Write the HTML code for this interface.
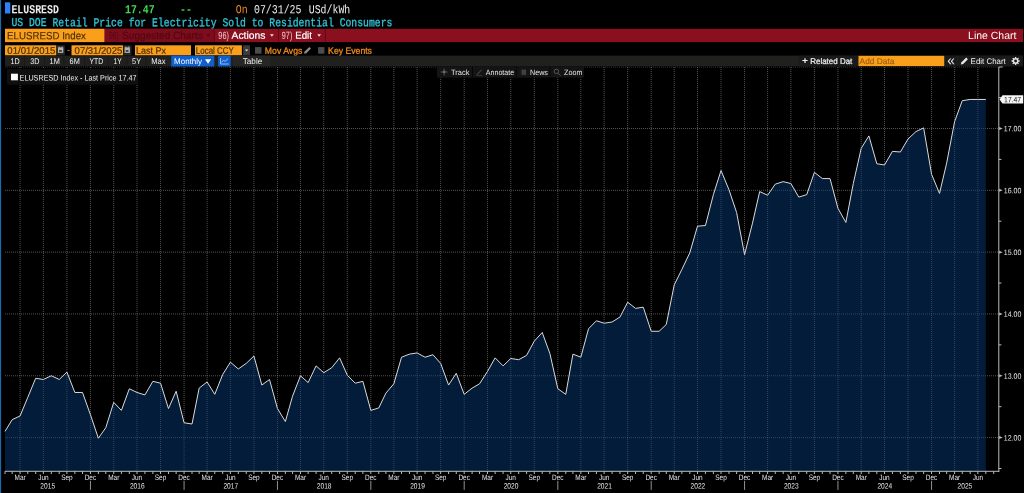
<!DOCTYPE html>
<html lang="en">
<head>
<meta charset="utf-8">
<title>ELUSRESD Index - Line Chart</title>
<style>
html,body{margin:0;padding:0;background:#000;}
body{width:1024px;height:493px;position:relative;overflow:hidden;font-family:"Liberation Sans",sans-serif;}

</style>
</head>
<body>
<svg width="1024" height="493" viewBox="0 0 1024 493" style="position:absolute;left:0;top:0;display:block;filter:blur(0.3px)">
<rect x="0.00" y="0.00" width="1024.00" height="493.00" fill="#000" />
<rect x="-1.00" y="0.00" width="2.10" height="493.00" fill="#1e6ab0" />
<rect x="5.00" y="2.30" width="5.30" height="11.20" fill="#2f80f5" />
<text transform="matrix(0.8048,0.0005,0,1,11.40,13.20)" font-family="Liberation Mono, monospace" font-size="12.3" fill="#ececec" font-weight="bold" >ELUSRESD</text>
<text transform="matrix(0.8047,0.0005,0,1,125.00,13.20)" font-family="Liberation Mono, monospace" font-size="12.3" fill="#3ddc4a" font-weight="bold" >17.47</text>
<text transform="matrix(0.8046,0.0005,0,1,180.00,13.20)" font-family="Liberation Mono, monospace" font-size="12.3" fill="#3cc84c" font-weight="bold" >--</text>
<text transform="matrix(0.8046,0.0005,0,1,235.70,13.20)" font-family="Liberation Mono, monospace" font-size="12.3" fill="#ee8a1e" >On</text>
<text transform="matrix(0.8048,0.0005,0,1,254.00,13.20)" font-family="Liberation Mono, monospace" font-size="12.3" fill="#eeeeee" >07/31/25</text>
<text transform="matrix(0.8049,0.0005,0,1,308.70,13.20)" font-family="Liberation Mono, monospace" font-size="12.3" fill="#eeeeee" >USd/kWh</text>
<text transform="matrix(0.8144,0.0005,0,1,11.40,26.10)" font-family="Liberation Mono, monospace" font-size="12.0" fill="#30c8dc" stroke="#30c8dc" stroke-width="0.3">US DOE Retail Price for Electricity Sold to Residential Consumers</text>
<rect x="5.00" y="28.80" width="1018.00" height="13.30" fill="#8a0f1f" />
<rect x="5.00" y="28.80" width="99.40" height="13.30" fill="#f99f1c" />
<rect x="104.90" y="28.80" width="109.10" height="13.30" fill="#7d0d1c" />
<text transform="matrix(0.9259,0.0005,0,1,7.10,39.20)" font-family="Liberation Sans, sans-serif" font-size="10.5" fill="#4a2e06" stroke="#4a2e06" stroke-width="0.15">ELUSRESD Index</text>
<text transform="matrix(0.6519,0.0005,0,1,109.00,38.90)" font-family="Liberation Sans, sans-serif" font-size="10.5" fill="#520813" >96)</text>
<text transform="matrix(0.9612,0.0005,0,1,122.10,38.90)" font-family="Liberation Sans, sans-serif" font-size="10.5" fill="#520813" stroke="#520813" stroke-width="0.2">Suggested Charts</text>
<polygon points="206.30,34.30 210.00,34.30 208.15,36.80" fill="#520813"/>
<rect x="213.80" y="28.80" width="1.00" height="13.30" fill="#5e0a16" />
<rect x="278.00" y="28.80" width="1.00" height="13.30" fill="#5e0a16" />
<rect x="324.90" y="28.80" width="1.00" height="13.30" fill="#5e0a16" />
<text transform="matrix(0.6947,0.0005,0,1,218.35,38.90)" font-family="Liberation Sans, sans-serif" font-size="10.5" fill="#eccdd0" >96)</text>
<text transform="matrix(1.0143,0.0005,0,1,231.50,38.70)" font-family="Liberation Sans, sans-serif" font-size="10.2" fill="#ffffff" stroke="#ffffff" stroke-width="0.2">Actions</text>
<polygon points="270.00,34.30 273.80,34.30 271.90,36.80" fill="#f0e0e0"/>
<text transform="matrix(0.6881,0.0005,0,1,281.85,38.90)" font-family="Liberation Sans, sans-serif" font-size="10.5" fill="#eccdd0" >97)</text>
<text transform="matrix(0.9566,0.0005,0,1,295.20,38.70)" font-family="Liberation Sans, sans-serif" font-size="10.2" fill="#ffffff" stroke="#ffffff" stroke-width="0.2">Edit</text>
<polygon points="317.30,34.30 321.00,34.30 319.15,36.80" fill="#f0e0e0"/>
<text transform="matrix(0.9968,0.0005,0,1,968.10,38.90)" font-family="Liberation Sans, sans-serif" font-size="10.5" fill="#ffffff" >Line Chart</text>
<rect x="5.00" y="45.30" width="51.30" height="10.10" fill="#f99f1c" />
<text transform="matrix(1.0106,0.0005,0,1,7.35,53.65)" font-family="Liberation Sans, sans-serif" font-size="9.5" fill="#4a2e06" stroke="#4a2e06" stroke-width="0.2">01/01/2015</text>
<rect x="57.00" y="45.30" width="7.90" height="10.10" fill="#262626" />
<rect x="57.95" y="47.30" width="5.35" height="5.60" fill="#b2b2b2" />
<rect x="58.60" y="46.50" width="1.00" height="1.00" fill="#b2b2b2" />
<rect x="61.60" y="46.50" width="1.00" height="1.00" fill="#b2b2b2" />
<rect x="59.10" y="50.10" width="2.75" height="1.65" fill="#303030" />
<text transform="matrix(0.9773,0.0005,0,1,67.10,53.20)" font-family="Liberation Sans, sans-serif" font-size="9.5" fill="#ee8a1e" >-</text>
<rect x="71.50" y="45.30" width="51.60" height="10.10" fill="#f99f1c" />
<text transform="matrix(1.0032,0.0005,0,1,74.60,53.65)" font-family="Liberation Sans, sans-serif" font-size="9.5" fill="#4a2e06" stroke="#4a2e06" stroke-width="0.2">07/31/2025</text>
<rect x="123.60" y="45.30" width="7.90" height="10.10" fill="#262626" />
<rect x="124.55" y="47.30" width="5.35" height="5.60" fill="#b2b2b2" />
<rect x="125.20" y="46.50" width="1.00" height="1.00" fill="#b2b2b2" />
<rect x="128.20" y="46.50" width="1.00" height="1.00" fill="#b2b2b2" />
<rect x="125.70" y="50.10" width="2.75" height="1.65" fill="#303030" />
<rect x="135.00" y="45.30" width="56.00" height="10.10" fill="#f99f1c" />
<text transform="matrix(0.9436,0.0005,0,1,136.10,53.65)" font-family="Liberation Sans, sans-serif" font-size="9.5" fill="#4a2e06" stroke="#4a2e06" stroke-width="0.2">Last Px</text>
<rect x="195.00" y="45.30" width="46.90" height="10.10" fill="#f99f1c" />
<text transform="matrix(0.8377,0.0005,0,1,195.85,53.65)" font-family="Liberation Sans, sans-serif" font-size="9.5" fill="#4a2e06" stroke="#4a2e06" stroke-width="0.2">Local CCY</text>
<rect x="243.10" y="45.30" width="6.90" height="10.10" fill="#3a3a3a" />
<polygon points="245.00,49.60 248.20,49.60 246.60,51.60" fill="#e0e0e0"/>
<rect x="255.00" y="47.10" width="6.50" height="6.60" fill="#4c4c4c" />
<text transform="matrix(0.9440,0.0005,0,1,264.85,53.65)" font-family="Liberation Sans, sans-serif" font-size="9.2" fill="#ee8a1e" stroke="#ee8a1e" stroke-width="0.3">Mov Avgs</text>
<path d="M304 53.8 L304.6 51.6 L309.3 46.9 L311 48.6 L306.3 53.2 Z" fill="#8c8c8c"/>
<rect x="318.10" y="47.10" width="6.30" height="6.60" fill="#4c4c4c" />
<text transform="matrix(0.9423,0.0005,0,1,328.10,53.65)" font-family="Liberation Sans, sans-serif" font-size="9.2" fill="#ee8a1e" stroke="#ee8a1e" stroke-width="0.3">Key Events</text>
<rect x="5.00" y="55.60" width="1018.00" height="10.70" fill="#20201e" />
<rect x="24.00" y="55.60" width="0.80" height="10.70" fill="#181818" />
<rect x="44.00" y="55.60" width="0.80" height="10.70" fill="#181818" />
<rect x="63.40" y="55.60" width="0.80" height="10.70" fill="#181818" />
<rect x="84.10" y="55.60" width="0.80" height="10.70" fill="#181818" />
<rect x="107.70" y="55.60" width="0.80" height="10.70" fill="#181818" />
<rect x="126.60" y="55.60" width="0.80" height="10.70" fill="#181818" />
<rect x="145.60" y="55.60" width="0.80" height="10.70" fill="#181818" />
<text transform="matrix(0.8788,0.0005,0,1,10.60,63.90)" font-family="Liberation Sans, sans-serif" font-size="8.2" fill="#f0f0f0" >1D</text>
<text transform="matrix(0.8788,0.0005,0,1,30.20,63.90)" font-family="Liberation Sans, sans-serif" font-size="8.2" fill="#f0f0f0" >3D</text>
<text transform="matrix(0.8967,0.0005,0,1,49.60,63.90)" font-family="Liberation Sans, sans-serif" font-size="8.2" fill="#f0f0f0" >1M</text>
<text transform="matrix(0.8967,0.0005,0,1,69.60,63.90)" font-family="Liberation Sans, sans-serif" font-size="8.2" fill="#f0f0f0" >6M</text>
<text transform="matrix(0.8275,0.0005,0,1,89.60,63.90)" font-family="Liberation Sans, sans-serif" font-size="8.2" fill="#f0f0f0" >YTD</text>
<text transform="matrix(0.8287,0.0005,0,1,113.60,63.90)" font-family="Liberation Sans, sans-serif" font-size="8.2" fill="#f0f0f0" >1Y</text>
<text transform="matrix(0.8986,0.0005,0,1,132.10,63.90)" font-family="Liberation Sans, sans-serif" font-size="8.2" fill="#f0f0f0" >5Y</text>
<text transform="matrix(0.9244,0.0005,0,1,151.30,63.90)" font-family="Liberation Sans, sans-serif" font-size="8.2" fill="#f0f0f0" >Max</text>
<rect x="171.25" y="55.60" width="43.05" height="10.90" fill="#0f5fcd" />
<text transform="matrix(0.9696,0.0005,0,1,174.10,63.90)" font-family="Liberation Sans, sans-serif" font-size="8.2" fill="#ffffff" >Monthly</text>
<polygon points="205.00,59.20 211.20,59.20 208.10,63.80" fill="#ffffff"/>
<rect x="218.10" y="55.60" width="12.60" height="10.90" fill="#0f5fcd" />
<path d="M220.6 58 V64 H228.6" fill="none" stroke="#a8c8f4" stroke-width="0.9"/>
<path d="M221.6 62.3 L223.4 60.3 L225 61.4 L228 58.8" fill="none" stroke="#a8c8f4" stroke-width="0.9"/>
<rect x="233.00" y="55.60" width="37.60" height="10.70" fill="#262624" />
<text transform="matrix(1.0011,0.0005,0,1,242.70,63.90)" font-family="Liberation Sans, sans-serif" font-size="8.2" fill="#f0f0f0" >Table</text>
<rect x="798.80" y="55.60" width="59.40" height="10.70" fill="#1a1a1a" />
<text transform="matrix(1.0787,0.0005,0,1,801.90,64.30)" font-family="Liberation Sans, sans-serif" font-size="9.5" fill="#f0f0f0" font-weight="bold" >+</text>
<text transform="matrix(0.9734,0.0005,0,1,810.20,63.90)" font-family="Liberation Sans, sans-serif" font-size="8.2" fill="#f0f0f0" stroke="#f0f0f0" stroke-width="0.22">Related Dat</text>
<rect x="858.50" y="55.80" width="85.70" height="10.30" fill="#f99f1c" />
<text transform="matrix(0.9965,0.0005,0,1,859.60,63.90)" font-family="Liberation Sans, sans-serif" font-size="8.4" fill="#9a5e0c" stroke="#9a5e0c" stroke-width="0.15">Add Data</text>
<rect x="945.00" y="55.60" width="12.00" height="10.70" fill="#1a1a1a" />
<text transform="matrix(0.9228,0.0005,0,1,947.20,65.30)" font-family="Liberation Sans, sans-serif" font-size="15" fill="#e8e8e8" >«</text>
<rect x="957.90" y="55.60" width="50.00" height="10.70" fill="#1a1a1a" />
<path d="M960.8 64.6 L961.5 62.2 L966.2 57.5 L967.9 59.2 L963.2 63.9 Z" fill="#e8e8e8"/>
<text transform="matrix(0.9669,0.0005,0,1,970.60,63.90)" font-family="Liberation Sans, sans-serif" font-size="8.2" fill="#f0f0f0" >Edit Chart</text>
<rect x="1008.50" y="55.60" width="14.50" height="10.70" fill="#1a1a1a" />
<g fill="none" stroke="#e8e8e8"><circle cx="1015.6" cy="61.0" r="2.2" stroke-width="1.5"/><path d="M1015.6 56.9V58.4M1015.6 63.6V65.1M1011.5 61.0H1013.0M1018.2 61.0H1019.7M1012.7 58.1L1013.7 59.1M1017.5 62.9L1018.5 63.9M1012.7 63.9L1013.7 62.9M1017.5 59.1L1018.5 58.1" stroke-width="1.3"/></g>
<line x1="5.0" x2="998.8" y1="67.2" y2="67.2" stroke="#909090" stroke-width="1" stroke-dasharray="1 1" opacity="0.3"/>
<line x1="5.0" x2="998.8" y1="437.60" y2="437.60" stroke="#909090" stroke-width="1" stroke-dasharray="1 1" opacity="0.58"/>
<line x1="5.0" x2="998.8" y1="375.78" y2="375.78" stroke="#909090" stroke-width="1" stroke-dasharray="1 1" opacity="0.58"/>
<line x1="5.0" x2="998.8" y1="313.96" y2="313.96" stroke="#909090" stroke-width="1" stroke-dasharray="1 1" opacity="0.58"/>
<line x1="5.0" x2="998.8" y1="252.14" y2="252.14" stroke="#909090" stroke-width="1" stroke-dasharray="1 1" opacity="0.58"/>
<line x1="5.0" x2="998.8" y1="190.32" y2="190.32" stroke="#909090" stroke-width="1" stroke-dasharray="1 1" opacity="0.58"/>
<line x1="5.0" x2="998.8" y1="128.50" y2="128.50" stroke="#909090" stroke-width="1" stroke-dasharray="1 1" opacity="0.58"/>
<line x1="20.09" x2="20.09" y1="67" y2="471.3" stroke="#909090" stroke-width="1" stroke-dasharray="1 1" opacity="0.58"/>
<line x1="43.37" x2="43.37" y1="67" y2="471.3" stroke="#909090" stroke-width="1" stroke-dasharray="1 1" opacity="0.58"/>
<line x1="66.91" x2="66.91" y1="67" y2="471.3" stroke="#909090" stroke-width="1" stroke-dasharray="1 1" opacity="0.58"/>
<line x1="90.44" x2="90.44" y1="67" y2="471.3" stroke="#909090" stroke-width="1" stroke-dasharray="1 1" opacity="0.58"/>
<line x1="113.72" x2="113.72" y1="67" y2="471.3" stroke="#909090" stroke-width="1" stroke-dasharray="1 1" opacity="0.58"/>
<line x1="137.00" x2="137.00" y1="67" y2="471.3" stroke="#909090" stroke-width="1" stroke-dasharray="1 1" opacity="0.58"/>
<line x1="160.54" x2="160.54" y1="67" y2="471.3" stroke="#909090" stroke-width="1" stroke-dasharray="1 1" opacity="0.58"/>
<line x1="184.07" x2="184.07" y1="67" y2="471.3" stroke="#909090" stroke-width="1" stroke-dasharray="1 1" opacity="0.58"/>
<line x1="207.09" x2="207.09" y1="67" y2="471.3" stroke="#909090" stroke-width="1" stroke-dasharray="1 1" opacity="0.58"/>
<line x1="230.37" x2="230.37" y1="67" y2="471.3" stroke="#909090" stroke-width="1" stroke-dasharray="1 1" opacity="0.58"/>
<line x1="253.91" x2="253.91" y1="67" y2="471.3" stroke="#909090" stroke-width="1" stroke-dasharray="1 1" opacity="0.58"/>
<line x1="277.44" x2="277.44" y1="67" y2="471.3" stroke="#909090" stroke-width="1" stroke-dasharray="1 1" opacity="0.58"/>
<line x1="300.47" x2="300.47" y1="67" y2="471.3" stroke="#909090" stroke-width="1" stroke-dasharray="1 1" opacity="0.58"/>
<line x1="323.75" x2="323.75" y1="67" y2="471.3" stroke="#909090" stroke-width="1" stroke-dasharray="1 1" opacity="0.58"/>
<line x1="347.28" x2="347.28" y1="67" y2="471.3" stroke="#909090" stroke-width="1" stroke-dasharray="1 1" opacity="0.58"/>
<line x1="370.82" x2="370.82" y1="67" y2="471.3" stroke="#909090" stroke-width="1" stroke-dasharray="1 1" opacity="0.58"/>
<line x1="393.84" x2="393.84" y1="67" y2="471.3" stroke="#909090" stroke-width="1" stroke-dasharray="1 1" opacity="0.58"/>
<line x1="417.12" x2="417.12" y1="67" y2="471.3" stroke="#909090" stroke-width="1" stroke-dasharray="1 1" opacity="0.58"/>
<line x1="440.66" x2="440.66" y1="67" y2="471.3" stroke="#909090" stroke-width="1" stroke-dasharray="1 1" opacity="0.58"/>
<line x1="464.19" x2="464.19" y1="67" y2="471.3" stroke="#909090" stroke-width="1" stroke-dasharray="1 1" opacity="0.58"/>
<line x1="487.47" x2="487.47" y1="67" y2="471.3" stroke="#909090" stroke-width="1" stroke-dasharray="1 1" opacity="0.58"/>
<line x1="510.75" x2="510.75" y1="67" y2="471.3" stroke="#909090" stroke-width="1" stroke-dasharray="1 1" opacity="0.58"/>
<line x1="534.28" x2="534.28" y1="67" y2="471.3" stroke="#909090" stroke-width="1" stroke-dasharray="1 1" opacity="0.58"/>
<line x1="557.82" x2="557.82" y1="67" y2="471.3" stroke="#909090" stroke-width="1" stroke-dasharray="1 1" opacity="0.58"/>
<line x1="580.84" x2="580.84" y1="67" y2="471.3" stroke="#909090" stroke-width="1" stroke-dasharray="1 1" opacity="0.58"/>
<line x1="604.12" x2="604.12" y1="67" y2="471.3" stroke="#909090" stroke-width="1" stroke-dasharray="1 1" opacity="0.58"/>
<line x1="627.66" x2="627.66" y1="67" y2="471.3" stroke="#909090" stroke-width="1" stroke-dasharray="1 1" opacity="0.58"/>
<line x1="651.19" x2="651.19" y1="67" y2="471.3" stroke="#909090" stroke-width="1" stroke-dasharray="1 1" opacity="0.58"/>
<line x1="674.22" x2="674.22" y1="67" y2="471.3" stroke="#909090" stroke-width="1" stroke-dasharray="1 1" opacity="0.58"/>
<line x1="697.49" x2="697.49" y1="67" y2="471.3" stroke="#909090" stroke-width="1" stroke-dasharray="1 1" opacity="0.58"/>
<line x1="721.03" x2="721.03" y1="67" y2="471.3" stroke="#909090" stroke-width="1" stroke-dasharray="1 1" opacity="0.58"/>
<line x1="744.57" x2="744.57" y1="67" y2="471.3" stroke="#909090" stroke-width="1" stroke-dasharray="1 1" opacity="0.58"/>
<line x1="767.59" x2="767.59" y1="67" y2="471.3" stroke="#909090" stroke-width="1" stroke-dasharray="1 1" opacity="0.58"/>
<line x1="790.87" x2="790.87" y1="67" y2="471.3" stroke="#909090" stroke-width="1" stroke-dasharray="1 1" opacity="0.58"/>
<line x1="814.40" x2="814.40" y1="67" y2="471.3" stroke="#909090" stroke-width="1" stroke-dasharray="1 1" opacity="0.58"/>
<line x1="837.94" x2="837.94" y1="67" y2="471.3" stroke="#909090" stroke-width="1" stroke-dasharray="1 1" opacity="0.58"/>
<line x1="861.22" x2="861.22" y1="67" y2="471.3" stroke="#909090" stroke-width="1" stroke-dasharray="1 1" opacity="0.58"/>
<line x1="884.50" x2="884.50" y1="67" y2="471.3" stroke="#909090" stroke-width="1" stroke-dasharray="1 1" opacity="0.58"/>
<line x1="908.03" x2="908.03" y1="67" y2="471.3" stroke="#909090" stroke-width="1" stroke-dasharray="1 1" opacity="0.58"/>
<line x1="931.57" x2="931.57" y1="67" y2="471.3" stroke="#909090" stroke-width="1" stroke-dasharray="1 1" opacity="0.58"/>
<line x1="954.59" x2="954.59" y1="67" y2="471.3" stroke="#909090" stroke-width="1" stroke-dasharray="1 1" opacity="0.58"/>
<line x1="977.87" x2="977.87" y1="67" y2="471.3" stroke="#909090" stroke-width="1" stroke-dasharray="1 1" opacity="0.58"/>
<polygon points="5.00,471.3 5.00,431.42 12.16,419.67 20.09,415.96 27.77,397.42 35.70,378.25 43.37,379.49 51.30,375.78 59.23,379.49 66.91,372.07 74.84,392.47 82.51,392.47 90.44,414.73 98.37,438.22 105.79,427.71 113.72,402.36 121.40,410.40 129.33,388.76 137.00,392.47 144.93,394.94 152.86,381.34 160.54,383.20 168.47,408.54 176.14,391.24 184.07,422.76 192.00,424.00 199.16,388.14 207.09,381.96 214.77,394.33 222.70,374.54 230.37,362.18 238.30,368.98 246.23,363.42 253.91,356.00 261.84,385.05 269.51,379.49 277.44,408.54 285.37,421.53 292.54,396.18 300.47,375.78 308.14,382.58 316.07,365.89 323.75,372.69 331.68,367.74 339.61,357.85 347.28,375.16 355.21,383.20 362.89,381.34 370.82,410.40 378.75,407.93 385.91,393.09 393.84,383.82 401.52,357.23 409.45,354.14 417.12,352.91 425.05,357.23 432.98,354.76 440.66,363.42 448.59,385.05 456.26,373.31 464.19,394.33 472.12,388.14 479.54,383.82 487.47,371.45 495.14,357.85 503.07,365.89 510.75,358.47 518.68,359.71 526.61,355.38 534.28,341.16 542.21,332.51 549.89,353.52 557.82,388.76 565.75,394.33 572.91,354.14 580.84,357.23 588.52,328.80 596.45,320.76 604.12,323.23 612.05,322.00 619.98,317.05 627.66,302.21 635.59,308.40 643.26,307.16 651.19,331.27 659.12,331.27 666.29,324.47 674.22,284.90 681.89,269.45 689.82,252.76 697.49,226.18 705.43,225.56 713.36,194.65 721.03,170.54 728.96,189.70 736.63,212.58 744.57,254.61 752.50,223.08 759.66,191.56 767.59,195.27 775.26,184.14 783.19,181.67 790.87,183.52 798.80,197.12 806.73,194.65 814.40,172.39 822.33,178.57 830.01,178.57 837.94,208.25 845.87,222.47 853.29,183.52 861.22,148.28 868.89,135.92 876.82,163.74 884.50,164.97 892.43,151.37 900.36,151.99 908.03,139.01 915.96,131.59 923.64,127.88 931.57,174.25 939.50,193.41 946.66,163.12 954.59,121.70 962.26,100.68 970.20,99.44 977.87,99.44 985.80,99.44 985.80,471.3" fill="#063874" fill-opacity="0.5"/>
<polyline points="5.00,431.42 12.16,419.67 20.09,415.96 27.77,397.42 35.70,378.25 43.37,379.49 51.30,375.78 59.23,379.49 66.91,372.07 74.84,392.47 82.51,392.47 90.44,414.73 98.37,438.22 105.79,427.71 113.72,402.36 121.40,410.40 129.33,388.76 137.00,392.47 144.93,394.94 152.86,381.34 160.54,383.20 168.47,408.54 176.14,391.24 184.07,422.76 192.00,424.00 199.16,388.14 207.09,381.96 214.77,394.33 222.70,374.54 230.37,362.18 238.30,368.98 246.23,363.42 253.91,356.00 261.84,385.05 269.51,379.49 277.44,408.54 285.37,421.53 292.54,396.18 300.47,375.78 308.14,382.58 316.07,365.89 323.75,372.69 331.68,367.74 339.61,357.85 347.28,375.16 355.21,383.20 362.89,381.34 370.82,410.40 378.75,407.93 385.91,393.09 393.84,383.82 401.52,357.23 409.45,354.14 417.12,352.91 425.05,357.23 432.98,354.76 440.66,363.42 448.59,385.05 456.26,373.31 464.19,394.33 472.12,388.14 479.54,383.82 487.47,371.45 495.14,357.85 503.07,365.89 510.75,358.47 518.68,359.71 526.61,355.38 534.28,341.16 542.21,332.51 549.89,353.52 557.82,388.76 565.75,394.33 572.91,354.14 580.84,357.23 588.52,328.80 596.45,320.76 604.12,323.23 612.05,322.00 619.98,317.05 627.66,302.21 635.59,308.40 643.26,307.16 651.19,331.27 659.12,331.27 666.29,324.47 674.22,284.90 681.89,269.45 689.82,252.76 697.49,226.18 705.43,225.56 713.36,194.65 721.03,170.54 728.96,189.70 736.63,212.58 744.57,254.61 752.50,223.08 759.66,191.56 767.59,195.27 775.26,184.14 783.19,181.67 790.87,183.52 798.80,197.12 806.73,194.65 814.40,172.39 822.33,178.57 830.01,178.57 837.94,208.25 845.87,222.47 853.29,183.52 861.22,148.28 868.89,135.92 876.82,163.74 884.50,164.97 892.43,151.37 900.36,151.99 908.03,139.01 915.96,131.59 923.64,127.88 931.57,174.25 939.50,193.41 946.66,163.12 954.59,121.70 962.26,100.68 970.20,99.44 977.87,99.44 985.80,99.44" fill="none" stroke="#dadada" stroke-width="1.0" stroke-linejoin="round"/>
<line x1="5.0" x2="999.3" y1="471.3" y2="471.3" stroke="#bcbcbc" stroke-width="1"/>
<line x1="998.8" x2="998.8" y1="67" y2="471.8" stroke="#bcbcbc" stroke-width="1"/>
<line x1="998.8" x2="1002.6999999999999" y1="67" y2="67" stroke="#bcbcbc" stroke-width="1"/>
<line x1="5.00" x2="5.00" y1="471.3" y2="474.0" stroke="#bcbcbc" stroke-width="1"/>
<line x1="12.16" x2="12.16" y1="471.3" y2="474.0" stroke="#bcbcbc" stroke-width="1"/>
<line x1="20.09" x2="20.09" y1="471.3" y2="474.0" stroke="#bcbcbc" stroke-width="1"/>
<line x1="27.77" x2="27.77" y1="471.3" y2="474.0" stroke="#bcbcbc" stroke-width="1"/>
<line x1="35.70" x2="35.70" y1="471.3" y2="474.0" stroke="#bcbcbc" stroke-width="1"/>
<line x1="43.37" x2="43.37" y1="471.3" y2="474.0" stroke="#bcbcbc" stroke-width="1"/>
<line x1="51.30" x2="51.30" y1="471.3" y2="474.0" stroke="#bcbcbc" stroke-width="1"/>
<line x1="59.23" x2="59.23" y1="471.3" y2="474.0" stroke="#bcbcbc" stroke-width="1"/>
<line x1="66.91" x2="66.91" y1="471.3" y2="474.0" stroke="#bcbcbc" stroke-width="1"/>
<line x1="74.84" x2="74.84" y1="471.3" y2="474.0" stroke="#bcbcbc" stroke-width="1"/>
<line x1="82.51" x2="82.51" y1="471.3" y2="474.0" stroke="#bcbcbc" stroke-width="1"/>
<line x1="90.44" x2="90.44" y1="471.3" y2="474.0" stroke="#bcbcbc" stroke-width="1"/>
<line x1="98.37" x2="98.37" y1="471.3" y2="474.0" stroke="#bcbcbc" stroke-width="1"/>
<line x1="105.79" x2="105.79" y1="471.3" y2="474.0" stroke="#bcbcbc" stroke-width="1"/>
<line x1="113.72" x2="113.72" y1="471.3" y2="474.0" stroke="#bcbcbc" stroke-width="1"/>
<line x1="121.40" x2="121.40" y1="471.3" y2="474.0" stroke="#bcbcbc" stroke-width="1"/>
<line x1="129.33" x2="129.33" y1="471.3" y2="474.0" stroke="#bcbcbc" stroke-width="1"/>
<line x1="137.00" x2="137.00" y1="471.3" y2="474.0" stroke="#bcbcbc" stroke-width="1"/>
<line x1="144.93" x2="144.93" y1="471.3" y2="474.0" stroke="#bcbcbc" stroke-width="1"/>
<line x1="152.86" x2="152.86" y1="471.3" y2="474.0" stroke="#bcbcbc" stroke-width="1"/>
<line x1="160.54" x2="160.54" y1="471.3" y2="474.0" stroke="#bcbcbc" stroke-width="1"/>
<line x1="168.47" x2="168.47" y1="471.3" y2="474.0" stroke="#bcbcbc" stroke-width="1"/>
<line x1="176.14" x2="176.14" y1="471.3" y2="474.0" stroke="#bcbcbc" stroke-width="1"/>
<line x1="184.07" x2="184.07" y1="471.3" y2="474.0" stroke="#bcbcbc" stroke-width="1"/>
<line x1="192.00" x2="192.00" y1="471.3" y2="474.0" stroke="#bcbcbc" stroke-width="1"/>
<line x1="199.16" x2="199.16" y1="471.3" y2="474.0" stroke="#bcbcbc" stroke-width="1"/>
<line x1="207.09" x2="207.09" y1="471.3" y2="474.0" stroke="#bcbcbc" stroke-width="1"/>
<line x1="214.77" x2="214.77" y1="471.3" y2="474.0" stroke="#bcbcbc" stroke-width="1"/>
<line x1="222.70" x2="222.70" y1="471.3" y2="474.0" stroke="#bcbcbc" stroke-width="1"/>
<line x1="230.37" x2="230.37" y1="471.3" y2="474.0" stroke="#bcbcbc" stroke-width="1"/>
<line x1="238.30" x2="238.30" y1="471.3" y2="474.0" stroke="#bcbcbc" stroke-width="1"/>
<line x1="246.23" x2="246.23" y1="471.3" y2="474.0" stroke="#bcbcbc" stroke-width="1"/>
<line x1="253.91" x2="253.91" y1="471.3" y2="474.0" stroke="#bcbcbc" stroke-width="1"/>
<line x1="261.84" x2="261.84" y1="471.3" y2="474.0" stroke="#bcbcbc" stroke-width="1"/>
<line x1="269.51" x2="269.51" y1="471.3" y2="474.0" stroke="#bcbcbc" stroke-width="1"/>
<line x1="277.44" x2="277.44" y1="471.3" y2="474.0" stroke="#bcbcbc" stroke-width="1"/>
<line x1="285.37" x2="285.37" y1="471.3" y2="474.0" stroke="#bcbcbc" stroke-width="1"/>
<line x1="292.54" x2="292.54" y1="471.3" y2="474.0" stroke="#bcbcbc" stroke-width="1"/>
<line x1="300.47" x2="300.47" y1="471.3" y2="474.0" stroke="#bcbcbc" stroke-width="1"/>
<line x1="308.14" x2="308.14" y1="471.3" y2="474.0" stroke="#bcbcbc" stroke-width="1"/>
<line x1="316.07" x2="316.07" y1="471.3" y2="474.0" stroke="#bcbcbc" stroke-width="1"/>
<line x1="323.75" x2="323.75" y1="471.3" y2="474.0" stroke="#bcbcbc" stroke-width="1"/>
<line x1="331.68" x2="331.68" y1="471.3" y2="474.0" stroke="#bcbcbc" stroke-width="1"/>
<line x1="339.61" x2="339.61" y1="471.3" y2="474.0" stroke="#bcbcbc" stroke-width="1"/>
<line x1="347.28" x2="347.28" y1="471.3" y2="474.0" stroke="#bcbcbc" stroke-width="1"/>
<line x1="355.21" x2="355.21" y1="471.3" y2="474.0" stroke="#bcbcbc" stroke-width="1"/>
<line x1="362.89" x2="362.89" y1="471.3" y2="474.0" stroke="#bcbcbc" stroke-width="1"/>
<line x1="370.82" x2="370.82" y1="471.3" y2="474.0" stroke="#bcbcbc" stroke-width="1"/>
<line x1="378.75" x2="378.75" y1="471.3" y2="474.0" stroke="#bcbcbc" stroke-width="1"/>
<line x1="385.91" x2="385.91" y1="471.3" y2="474.0" stroke="#bcbcbc" stroke-width="1"/>
<line x1="393.84" x2="393.84" y1="471.3" y2="474.0" stroke="#bcbcbc" stroke-width="1"/>
<line x1="401.52" x2="401.52" y1="471.3" y2="474.0" stroke="#bcbcbc" stroke-width="1"/>
<line x1="409.45" x2="409.45" y1="471.3" y2="474.0" stroke="#bcbcbc" stroke-width="1"/>
<line x1="417.12" x2="417.12" y1="471.3" y2="474.0" stroke="#bcbcbc" stroke-width="1"/>
<line x1="425.05" x2="425.05" y1="471.3" y2="474.0" stroke="#bcbcbc" stroke-width="1"/>
<line x1="432.98" x2="432.98" y1="471.3" y2="474.0" stroke="#bcbcbc" stroke-width="1"/>
<line x1="440.66" x2="440.66" y1="471.3" y2="474.0" stroke="#bcbcbc" stroke-width="1"/>
<line x1="448.59" x2="448.59" y1="471.3" y2="474.0" stroke="#bcbcbc" stroke-width="1"/>
<line x1="456.26" x2="456.26" y1="471.3" y2="474.0" stroke="#bcbcbc" stroke-width="1"/>
<line x1="464.19" x2="464.19" y1="471.3" y2="474.0" stroke="#bcbcbc" stroke-width="1"/>
<line x1="472.12" x2="472.12" y1="471.3" y2="474.0" stroke="#bcbcbc" stroke-width="1"/>
<line x1="479.54" x2="479.54" y1="471.3" y2="474.0" stroke="#bcbcbc" stroke-width="1"/>
<line x1="487.47" x2="487.47" y1="471.3" y2="474.0" stroke="#bcbcbc" stroke-width="1"/>
<line x1="495.14" x2="495.14" y1="471.3" y2="474.0" stroke="#bcbcbc" stroke-width="1"/>
<line x1="503.07" x2="503.07" y1="471.3" y2="474.0" stroke="#bcbcbc" stroke-width="1"/>
<line x1="510.75" x2="510.75" y1="471.3" y2="474.0" stroke="#bcbcbc" stroke-width="1"/>
<line x1="518.68" x2="518.68" y1="471.3" y2="474.0" stroke="#bcbcbc" stroke-width="1"/>
<line x1="526.61" x2="526.61" y1="471.3" y2="474.0" stroke="#bcbcbc" stroke-width="1"/>
<line x1="534.28" x2="534.28" y1="471.3" y2="474.0" stroke="#bcbcbc" stroke-width="1"/>
<line x1="542.21" x2="542.21" y1="471.3" y2="474.0" stroke="#bcbcbc" stroke-width="1"/>
<line x1="549.89" x2="549.89" y1="471.3" y2="474.0" stroke="#bcbcbc" stroke-width="1"/>
<line x1="557.82" x2="557.82" y1="471.3" y2="474.0" stroke="#bcbcbc" stroke-width="1"/>
<line x1="565.75" x2="565.75" y1="471.3" y2="474.0" stroke="#bcbcbc" stroke-width="1"/>
<line x1="572.91" x2="572.91" y1="471.3" y2="474.0" stroke="#bcbcbc" stroke-width="1"/>
<line x1="580.84" x2="580.84" y1="471.3" y2="474.0" stroke="#bcbcbc" stroke-width="1"/>
<line x1="588.52" x2="588.52" y1="471.3" y2="474.0" stroke="#bcbcbc" stroke-width="1"/>
<line x1="596.45" x2="596.45" y1="471.3" y2="474.0" stroke="#bcbcbc" stroke-width="1"/>
<line x1="604.12" x2="604.12" y1="471.3" y2="474.0" stroke="#bcbcbc" stroke-width="1"/>
<line x1="612.05" x2="612.05" y1="471.3" y2="474.0" stroke="#bcbcbc" stroke-width="1"/>
<line x1="619.98" x2="619.98" y1="471.3" y2="474.0" stroke="#bcbcbc" stroke-width="1"/>
<line x1="627.66" x2="627.66" y1="471.3" y2="474.0" stroke="#bcbcbc" stroke-width="1"/>
<line x1="635.59" x2="635.59" y1="471.3" y2="474.0" stroke="#bcbcbc" stroke-width="1"/>
<line x1="643.26" x2="643.26" y1="471.3" y2="474.0" stroke="#bcbcbc" stroke-width="1"/>
<line x1="651.19" x2="651.19" y1="471.3" y2="474.0" stroke="#bcbcbc" stroke-width="1"/>
<line x1="659.12" x2="659.12" y1="471.3" y2="474.0" stroke="#bcbcbc" stroke-width="1"/>
<line x1="666.29" x2="666.29" y1="471.3" y2="474.0" stroke="#bcbcbc" stroke-width="1"/>
<line x1="674.22" x2="674.22" y1="471.3" y2="474.0" stroke="#bcbcbc" stroke-width="1"/>
<line x1="681.89" x2="681.89" y1="471.3" y2="474.0" stroke="#bcbcbc" stroke-width="1"/>
<line x1="689.82" x2="689.82" y1="471.3" y2="474.0" stroke="#bcbcbc" stroke-width="1"/>
<line x1="697.49" x2="697.49" y1="471.3" y2="474.0" stroke="#bcbcbc" stroke-width="1"/>
<line x1="705.43" x2="705.43" y1="471.3" y2="474.0" stroke="#bcbcbc" stroke-width="1"/>
<line x1="713.36" x2="713.36" y1="471.3" y2="474.0" stroke="#bcbcbc" stroke-width="1"/>
<line x1="721.03" x2="721.03" y1="471.3" y2="474.0" stroke="#bcbcbc" stroke-width="1"/>
<line x1="728.96" x2="728.96" y1="471.3" y2="474.0" stroke="#bcbcbc" stroke-width="1"/>
<line x1="736.63" x2="736.63" y1="471.3" y2="474.0" stroke="#bcbcbc" stroke-width="1"/>
<line x1="744.57" x2="744.57" y1="471.3" y2="474.0" stroke="#bcbcbc" stroke-width="1"/>
<line x1="752.50" x2="752.50" y1="471.3" y2="474.0" stroke="#bcbcbc" stroke-width="1"/>
<line x1="759.66" x2="759.66" y1="471.3" y2="474.0" stroke="#bcbcbc" stroke-width="1"/>
<line x1="767.59" x2="767.59" y1="471.3" y2="474.0" stroke="#bcbcbc" stroke-width="1"/>
<line x1="775.26" x2="775.26" y1="471.3" y2="474.0" stroke="#bcbcbc" stroke-width="1"/>
<line x1="783.19" x2="783.19" y1="471.3" y2="474.0" stroke="#bcbcbc" stroke-width="1"/>
<line x1="790.87" x2="790.87" y1="471.3" y2="474.0" stroke="#bcbcbc" stroke-width="1"/>
<line x1="798.80" x2="798.80" y1="471.3" y2="474.0" stroke="#bcbcbc" stroke-width="1"/>
<line x1="806.73" x2="806.73" y1="471.3" y2="474.0" stroke="#bcbcbc" stroke-width="1"/>
<line x1="814.40" x2="814.40" y1="471.3" y2="474.0" stroke="#bcbcbc" stroke-width="1"/>
<line x1="822.33" x2="822.33" y1="471.3" y2="474.0" stroke="#bcbcbc" stroke-width="1"/>
<line x1="830.01" x2="830.01" y1="471.3" y2="474.0" stroke="#bcbcbc" stroke-width="1"/>
<line x1="837.94" x2="837.94" y1="471.3" y2="474.0" stroke="#bcbcbc" stroke-width="1"/>
<line x1="845.87" x2="845.87" y1="471.3" y2="474.0" stroke="#bcbcbc" stroke-width="1"/>
<line x1="853.29" x2="853.29" y1="471.3" y2="474.0" stroke="#bcbcbc" stroke-width="1"/>
<line x1="861.22" x2="861.22" y1="471.3" y2="474.0" stroke="#bcbcbc" stroke-width="1"/>
<line x1="868.89" x2="868.89" y1="471.3" y2="474.0" stroke="#bcbcbc" stroke-width="1"/>
<line x1="876.82" x2="876.82" y1="471.3" y2="474.0" stroke="#bcbcbc" stroke-width="1"/>
<line x1="884.50" x2="884.50" y1="471.3" y2="474.0" stroke="#bcbcbc" stroke-width="1"/>
<line x1="892.43" x2="892.43" y1="471.3" y2="474.0" stroke="#bcbcbc" stroke-width="1"/>
<line x1="900.36" x2="900.36" y1="471.3" y2="474.0" stroke="#bcbcbc" stroke-width="1"/>
<line x1="908.03" x2="908.03" y1="471.3" y2="474.0" stroke="#bcbcbc" stroke-width="1"/>
<line x1="915.96" x2="915.96" y1="471.3" y2="474.0" stroke="#bcbcbc" stroke-width="1"/>
<line x1="923.64" x2="923.64" y1="471.3" y2="474.0" stroke="#bcbcbc" stroke-width="1"/>
<line x1="931.57" x2="931.57" y1="471.3" y2="474.0" stroke="#bcbcbc" stroke-width="1"/>
<line x1="939.50" x2="939.50" y1="471.3" y2="474.0" stroke="#bcbcbc" stroke-width="1"/>
<line x1="946.66" x2="946.66" y1="471.3" y2="474.0" stroke="#bcbcbc" stroke-width="1"/>
<line x1="954.59" x2="954.59" y1="471.3" y2="474.0" stroke="#bcbcbc" stroke-width="1"/>
<line x1="962.26" x2="962.26" y1="471.3" y2="474.0" stroke="#bcbcbc" stroke-width="1"/>
<line x1="970.20" x2="970.20" y1="471.3" y2="474.0" stroke="#bcbcbc" stroke-width="1"/>
<line x1="977.87" x2="977.87" y1="471.3" y2="474.0" stroke="#bcbcbc" stroke-width="1"/>
<line x1="985.80" x2="985.80" y1="471.3" y2="474.0" stroke="#bcbcbc" stroke-width="1"/>
<line x1="993.73" x2="993.73" y1="471.3" y2="474.0" stroke="#bcbcbc" stroke-width="1"/>
<line x1="90.44" x2="90.44" y1="480.8" y2="489.9" stroke="#929292" stroke-width="1"/>
<line x1="184.07" x2="184.07" y1="480.8" y2="489.9" stroke="#929292" stroke-width="1"/>
<line x1="277.44" x2="277.44" y1="480.8" y2="489.9" stroke="#929292" stroke-width="1"/>
<line x1="370.82" x2="370.82" y1="480.8" y2="489.9" stroke="#929292" stroke-width="1"/>
<line x1="464.19" x2="464.19" y1="480.8" y2="489.9" stroke="#929292" stroke-width="1"/>
<line x1="557.82" x2="557.82" y1="480.8" y2="489.9" stroke="#929292" stroke-width="1"/>
<line x1="651.19" x2="651.19" y1="480.8" y2="489.9" stroke="#929292" stroke-width="1"/>
<line x1="744.57" x2="744.57" y1="480.8" y2="489.9" stroke="#929292" stroke-width="1"/>
<line x1="837.94" x2="837.94" y1="480.8" y2="489.9" stroke="#929292" stroke-width="1"/>
<line x1="931.57" x2="931.57" y1="480.8" y2="489.9" stroke="#929292" stroke-width="1"/>
<text transform="matrix(0.83,0.0005,0,1,20.09,479.90)" font-family="Liberation Sans, sans-serif" font-size="7.8" fill="#e6e6e6" text-anchor="middle" >Mar</text>
<text transform="matrix(0.83,0.0005,0,1,43.37,479.90)" font-family="Liberation Sans, sans-serif" font-size="7.8" fill="#e6e6e6" text-anchor="middle" >Jun</text>
<text transform="matrix(0.83,0.0005,0,1,66.91,479.90)" font-family="Liberation Sans, sans-serif" font-size="7.8" fill="#e6e6e6" text-anchor="middle" >Sep</text>
<text transform="matrix(0.83,0.0005,0,1,90.44,479.90)" font-family="Liberation Sans, sans-serif" font-size="7.8" fill="#e6e6e6" text-anchor="middle" >Dec</text>
<text transform="matrix(0.83,0.0005,0,1,113.72,479.90)" font-family="Liberation Sans, sans-serif" font-size="7.8" fill="#e6e6e6" text-anchor="middle" >Mar</text>
<text transform="matrix(0.83,0.0005,0,1,137.00,479.90)" font-family="Liberation Sans, sans-serif" font-size="7.8" fill="#e6e6e6" text-anchor="middle" >Jun</text>
<text transform="matrix(0.83,0.0005,0,1,160.54,479.90)" font-family="Liberation Sans, sans-serif" font-size="7.8" fill="#e6e6e6" text-anchor="middle" >Sep</text>
<text transform="matrix(0.83,0.0005,0,1,184.07,479.90)" font-family="Liberation Sans, sans-serif" font-size="7.8" fill="#e6e6e6" text-anchor="middle" >Dec</text>
<text transform="matrix(0.83,0.0005,0,1,207.09,479.90)" font-family="Liberation Sans, sans-serif" font-size="7.8" fill="#e6e6e6" text-anchor="middle" >Mar</text>
<text transform="matrix(0.83,0.0005,0,1,230.37,479.90)" font-family="Liberation Sans, sans-serif" font-size="7.8" fill="#e6e6e6" text-anchor="middle" >Jun</text>
<text transform="matrix(0.83,0.0005,0,1,253.91,479.90)" font-family="Liberation Sans, sans-serif" font-size="7.8" fill="#e6e6e6" text-anchor="middle" >Sep</text>
<text transform="matrix(0.83,0.0005,0,1,277.44,479.90)" font-family="Liberation Sans, sans-serif" font-size="7.8" fill="#e6e6e6" text-anchor="middle" >Dec</text>
<text transform="matrix(0.83,0.0005,0,1,300.47,479.90)" font-family="Liberation Sans, sans-serif" font-size="7.8" fill="#e6e6e6" text-anchor="middle" >Mar</text>
<text transform="matrix(0.83,0.0005,0,1,323.75,479.90)" font-family="Liberation Sans, sans-serif" font-size="7.8" fill="#e6e6e6" text-anchor="middle" >Jun</text>
<text transform="matrix(0.83,0.0005,0,1,347.28,479.90)" font-family="Liberation Sans, sans-serif" font-size="7.8" fill="#e6e6e6" text-anchor="middle" >Sep</text>
<text transform="matrix(0.83,0.0005,0,1,370.82,479.90)" font-family="Liberation Sans, sans-serif" font-size="7.8" fill="#e6e6e6" text-anchor="middle" >Dec</text>
<text transform="matrix(0.83,0.0005,0,1,393.84,479.90)" font-family="Liberation Sans, sans-serif" font-size="7.8" fill="#e6e6e6" text-anchor="middle" >Mar</text>
<text transform="matrix(0.83,0.0005,0,1,417.12,479.90)" font-family="Liberation Sans, sans-serif" font-size="7.8" fill="#e6e6e6" text-anchor="middle" >Jun</text>
<text transform="matrix(0.83,0.0005,0,1,440.66,479.90)" font-family="Liberation Sans, sans-serif" font-size="7.8" fill="#e6e6e6" text-anchor="middle" >Sep</text>
<text transform="matrix(0.83,0.0005,0,1,464.19,479.90)" font-family="Liberation Sans, sans-serif" font-size="7.8" fill="#e6e6e6" text-anchor="middle" >Dec</text>
<text transform="matrix(0.83,0.0005,0,1,487.47,479.90)" font-family="Liberation Sans, sans-serif" font-size="7.8" fill="#e6e6e6" text-anchor="middle" >Mar</text>
<text transform="matrix(0.83,0.0005,0,1,510.75,479.90)" font-family="Liberation Sans, sans-serif" font-size="7.8" fill="#e6e6e6" text-anchor="middle" >Jun</text>
<text transform="matrix(0.83,0.0005,0,1,534.28,479.90)" font-family="Liberation Sans, sans-serif" font-size="7.8" fill="#e6e6e6" text-anchor="middle" >Sep</text>
<text transform="matrix(0.83,0.0005,0,1,557.82,479.90)" font-family="Liberation Sans, sans-serif" font-size="7.8" fill="#e6e6e6" text-anchor="middle" >Dec</text>
<text transform="matrix(0.83,0.0005,0,1,580.84,479.90)" font-family="Liberation Sans, sans-serif" font-size="7.8" fill="#e6e6e6" text-anchor="middle" >Mar</text>
<text transform="matrix(0.83,0.0005,0,1,604.12,479.90)" font-family="Liberation Sans, sans-serif" font-size="7.8" fill="#e6e6e6" text-anchor="middle" >Jun</text>
<text transform="matrix(0.83,0.0005,0,1,627.66,479.90)" font-family="Liberation Sans, sans-serif" font-size="7.8" fill="#e6e6e6" text-anchor="middle" >Sep</text>
<text transform="matrix(0.83,0.0005,0,1,651.19,479.90)" font-family="Liberation Sans, sans-serif" font-size="7.8" fill="#e6e6e6" text-anchor="middle" >Dec</text>
<text transform="matrix(0.83,0.0005,0,1,674.22,479.90)" font-family="Liberation Sans, sans-serif" font-size="7.8" fill="#e6e6e6" text-anchor="middle" >Mar</text>
<text transform="matrix(0.83,0.0005,0,1,697.49,479.90)" font-family="Liberation Sans, sans-serif" font-size="7.8" fill="#e6e6e6" text-anchor="middle" >Jun</text>
<text transform="matrix(0.83,0.0005,0,1,721.03,479.90)" font-family="Liberation Sans, sans-serif" font-size="7.8" fill="#e6e6e6" text-anchor="middle" >Sep</text>
<text transform="matrix(0.83,0.0005,0,1,744.57,479.90)" font-family="Liberation Sans, sans-serif" font-size="7.8" fill="#e6e6e6" text-anchor="middle" >Dec</text>
<text transform="matrix(0.83,0.0005,0,1,767.59,479.90)" font-family="Liberation Sans, sans-serif" font-size="7.8" fill="#e6e6e6" text-anchor="middle" >Mar</text>
<text transform="matrix(0.83,0.0005,0,1,790.87,479.90)" font-family="Liberation Sans, sans-serif" font-size="7.8" fill="#e6e6e6" text-anchor="middle" >Jun</text>
<text transform="matrix(0.83,0.0005,0,1,814.40,479.90)" font-family="Liberation Sans, sans-serif" font-size="7.8" fill="#e6e6e6" text-anchor="middle" >Sep</text>
<text transform="matrix(0.83,0.0005,0,1,837.94,479.90)" font-family="Liberation Sans, sans-serif" font-size="7.8" fill="#e6e6e6" text-anchor="middle" >Dec</text>
<text transform="matrix(0.83,0.0005,0,1,861.22,479.90)" font-family="Liberation Sans, sans-serif" font-size="7.8" fill="#e6e6e6" text-anchor="middle" >Mar</text>
<text transform="matrix(0.83,0.0005,0,1,884.50,479.90)" font-family="Liberation Sans, sans-serif" font-size="7.8" fill="#e6e6e6" text-anchor="middle" >Jun</text>
<text transform="matrix(0.83,0.0005,0,1,908.03,479.90)" font-family="Liberation Sans, sans-serif" font-size="7.8" fill="#e6e6e6" text-anchor="middle" >Sep</text>
<text transform="matrix(0.83,0.0005,0,1,931.57,479.90)" font-family="Liberation Sans, sans-serif" font-size="7.8" fill="#e6e6e6" text-anchor="middle" >Dec</text>
<text transform="matrix(0.83,0.0005,0,1,954.59,479.90)" font-family="Liberation Sans, sans-serif" font-size="7.8" fill="#e6e6e6" text-anchor="middle" >Mar</text>
<text transform="matrix(0.83,0.0005,0,1,977.87,479.90)" font-family="Liberation Sans, sans-serif" font-size="7.8" fill="#e6e6e6" text-anchor="middle" >Jun</text>
<text transform="matrix(0.85,0.0005,0,1,47.72,488.50)" font-family="Liberation Sans, sans-serif" font-size="7.8" fill="#e6e6e6" text-anchor="middle" >2015</text>
<text transform="matrix(0.85,0.0005,0,1,137.26,488.50)" font-family="Liberation Sans, sans-serif" font-size="7.8" fill="#e6e6e6" text-anchor="middle" >2016</text>
<text transform="matrix(0.85,0.0005,0,1,230.76,488.50)" font-family="Liberation Sans, sans-serif" font-size="7.8" fill="#e6e6e6" text-anchor="middle" >2017</text>
<text transform="matrix(0.85,0.0005,0,1,324.13,488.50)" font-family="Liberation Sans, sans-serif" font-size="7.8" fill="#e6e6e6" text-anchor="middle" >2018</text>
<text transform="matrix(0.85,0.0005,0,1,417.50,488.50)" font-family="Liberation Sans, sans-serif" font-size="7.8" fill="#e6e6e6" text-anchor="middle" >2019</text>
<text transform="matrix(0.85,0.0005,0,1,511.00,488.50)" font-family="Liberation Sans, sans-serif" font-size="7.8" fill="#e6e6e6" text-anchor="middle" >2020</text>
<text transform="matrix(0.85,0.0005,0,1,604.51,488.50)" font-family="Liberation Sans, sans-serif" font-size="7.8" fill="#e6e6e6" text-anchor="middle" >2021</text>
<text transform="matrix(0.85,0.0005,0,1,697.88,488.50)" font-family="Liberation Sans, sans-serif" font-size="7.8" fill="#e6e6e6" text-anchor="middle" >2022</text>
<text transform="matrix(0.85,0.0005,0,1,791.25,488.50)" font-family="Liberation Sans, sans-serif" font-size="7.8" fill="#e6e6e6" text-anchor="middle" >2023</text>
<text transform="matrix(0.85,0.0005,0,1,884.75,488.50)" font-family="Liberation Sans, sans-serif" font-size="7.8" fill="#e6e6e6" text-anchor="middle" >2024</text>
<text transform="matrix(0.85,0.0005,0,1,964.93,488.50)" font-family="Liberation Sans, sans-serif" font-size="7.8" fill="#e6e6e6" text-anchor="middle" >2025</text>
<line x1="998.8" x2="1001.4" y1="468.51" y2="468.51" stroke="#bcbcbc" stroke-width="1"/>
<polygon points="999.0999999999999,436.10 999.0999999999999,439.10 1002.6999999999999,437.60" fill="#bcbcbc"/>
<text transform="matrix(0.9,0.0005,0,1,1003.80,440.45)" font-family="Liberation Sans, sans-serif" font-size="7.8" fill="#e6e6e6" text-anchor="start" >12.00</text>
<line x1="998.8" x2="1001.4" y1="406.69" y2="406.69" stroke="#bcbcbc" stroke-width="1"/>
<polygon points="999.0999999999999,374.28 999.0999999999999,377.28 1002.6999999999999,375.78" fill="#bcbcbc"/>
<text transform="matrix(0.9,0.0005,0,1,1003.80,378.63)" font-family="Liberation Sans, sans-serif" font-size="7.8" fill="#e6e6e6" text-anchor="start" >13.00</text>
<line x1="998.8" x2="1001.4" y1="344.87" y2="344.87" stroke="#bcbcbc" stroke-width="1"/>
<polygon points="999.0999999999999,312.46 999.0999999999999,315.46 1002.6999999999999,313.96" fill="#bcbcbc"/>
<text transform="matrix(0.9,0.0005,0,1,1003.80,316.81)" font-family="Liberation Sans, sans-serif" font-size="7.8" fill="#e6e6e6" text-anchor="start" >14.00</text>
<line x1="998.8" x2="1001.4" y1="283.05" y2="283.05" stroke="#bcbcbc" stroke-width="1"/>
<polygon points="999.0999999999999,250.64 999.0999999999999,253.64 1002.6999999999999,252.14" fill="#bcbcbc"/>
<text transform="matrix(0.9,0.0005,0,1,1003.80,254.99)" font-family="Liberation Sans, sans-serif" font-size="7.8" fill="#e6e6e6" text-anchor="start" >15.00</text>
<line x1="998.8" x2="1001.4" y1="221.23" y2="221.23" stroke="#bcbcbc" stroke-width="1"/>
<polygon points="999.0999999999999,188.82 999.0999999999999,191.82 1002.6999999999999,190.32" fill="#bcbcbc"/>
<text transform="matrix(0.9,0.0005,0,1,1003.80,193.17)" font-family="Liberation Sans, sans-serif" font-size="7.8" fill="#e6e6e6" text-anchor="start" >16.00</text>
<line x1="998.8" x2="1001.4" y1="159.41" y2="159.41" stroke="#bcbcbc" stroke-width="1"/>
<polygon points="999.0999999999999,127.00 999.0999999999999,130.00 1002.6999999999999,128.50" fill="#bcbcbc"/>
<text transform="matrix(0.9,0.0005,0,1,1003.80,131.35)" font-family="Liberation Sans, sans-serif" font-size="7.8" fill="#e6e6e6" text-anchor="start" >17.00</text>
<line x1="998.8" x2="1001.4" y1="97.59" y2="97.59" stroke="#bcbcbc" stroke-width="1"/>
<polygon points="999.6,99.44 1002.5,95.34 1023.2,95.34 1023.2,103.54 1002.5,103.54" fill="#f6f6f6"/>
<text transform="matrix(0.875,0.0005,0,1,1004.10,102.34)" font-family="Liberation Sans, sans-serif" font-size="7.8" fill="#151515" text-anchor="start" >17.47</text>
<rect x="6.90" y="69.20" width="130.90" height="15.40" fill="#0f0f0f" />
<rect x="11.00" y="73.70" width="6.90" height="6.60" fill="#ffffff" />
<text transform="matrix(0.9015,0.0005,0,1,19.60,80.50)" font-family="Liberation Sans, sans-serif" font-size="8" fill="#f0f0f0" >ELUSRESD Index - Last Price 17.47</text>
<rect x="437.00" y="66.30" width="146.80" height="11.30" fill="#141414" />
<rect x="472.10" y="66.30" width="0.80" height="11.30" fill="#050505" />
<rect x="515.90" y="66.30" width="0.80" height="11.30" fill="#050505" />
<rect x="549.60" y="66.30" width="0.80" height="11.30" fill="#050505" />
<text transform="matrix(0.9663,0.0005,0,1,451.10,75.00)" font-family="Liberation Sans, sans-serif" font-size="7.7" fill="#e6e6e6" >Track</text>
<text transform="matrix(0.9194,0.0005,0,1,485.85,75.00)" font-family="Liberation Sans, sans-serif" font-size="7.7" fill="#e6e6e6" >Annotate</text>
<text transform="matrix(0.9254,0.0005,0,1,530.10,75.00)" font-family="Liberation Sans, sans-serif" font-size="7.7" fill="#e6e6e6" >News</text>
<text transform="matrix(0.9310,0.0005,0,1,564.10,75.00)" font-family="Liberation Sans, sans-serif" font-size="7.7" fill="#e6e6e6" >Zoom</text>
<path d="M444.1 68.6V75.4M440.7 72H447.5" stroke="#5c5c5c" stroke-width="1"/><circle cx="444.1" cy="72" r="1.3" fill="#6c6c6c"/>
<path d="M477 74.6 L481.6 69.8" stroke="#606060" stroke-width="0.9"/><path d="M476.3 75.4H482" stroke="#505050" stroke-width="0.6"/>
<rect x="521.50" y="69.60" width="4.60" height="5.30" fill="#404040" />
<circle cx="556.4" cy="71.4" r="2.2" fill="none" stroke="#5e5e5e" stroke-width="0.9"/><path d="M558 73.2L560.4 75.6" stroke="#5e5e5e" stroke-width="1"/>
</svg>
</body>
</html>
